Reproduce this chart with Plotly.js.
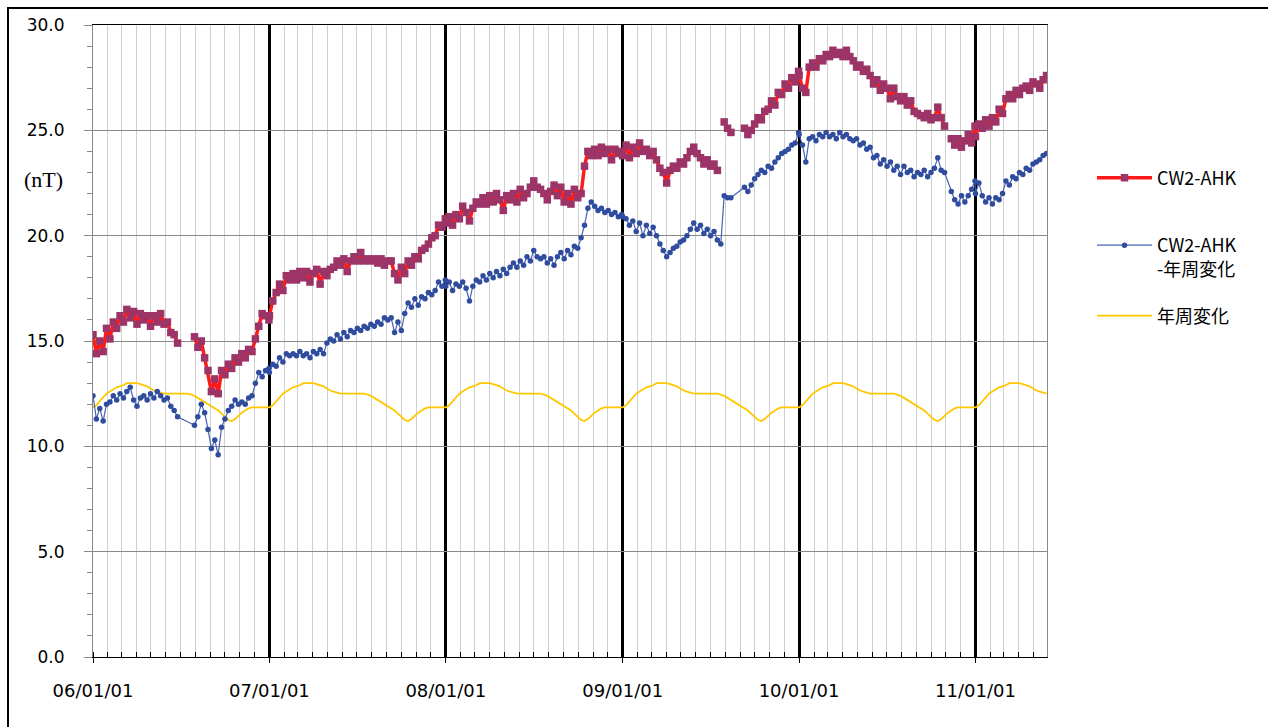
<!DOCTYPE html>
<html>
<head>
<meta charset="utf-8">
<script src="https://cdn.plot.ly/plotly-3.0.1.min.js"></script>
<style>
  html, body { margin:0; padding:0; background:#fff; overflow:hidden; }
  #wrap { position:relative; width:1268px; height:727px; }
  #chart { position:absolute; left:0; top:0; width:1268px; height:727px; }
  #frame { position:absolute; left:7px; top:7px; width:1275px; height:735px; border:2px solid #000; pointer-events:none; box-sizing:border-box; }
</style>
</head>
<body>
<div id="wrap"><div id="chart"></div><div id="frame"></div></div>
<script>
// ---- weekly samples per calendar year (first sample on Jan 1) ----
const years = [2006, 2007, 2008, 2009, 2010, 2011];

// CW2-AHK (nT)
const cw2_2006 = [15.3, 14.4, 15.0, 14.5, 15.6, 15.1, 15.9, 15.6, 16.2, 15.9, 16.5, 16.1, 16.4, 15.8, 16.3, 16.0, 16.2, 15.7, 16.2, 15.9, 16.3, 15.8, 15.9, 15.4, 15.3, 14.9, null, null, null, null, 15.2, 14.7, 15.0, 14.2, 13.6, 12.6, 13.2, 12.5, 13.6, 13.4, 13.9, 13.7, 14.2, 14.0, 14.4, 14.2, 14.6, 14.5, 15.1, 15.7, 16.3, 16.2, 16.0];
const cw2_2007 = [16.2, 16.9, 17.3, 17.7, 17.4, 18.1, 17.9, 18.2, 17.9, 18.3, 18.0, 18.3, 17.8, 18.2, 18.4, 17.7, 18.3, 18.1, 18.4, 18.5, 18.8, 18.6, 18.9, 18.3, 18.8, 19.0, 18.8, 19.2, 18.8, 18.9, 18.8, 18.9, 18.7, 18.9, 18.6, 18.8, 18.8, 18.2, 17.9, 18.5, 18.2, 18.8, 18.6, 19.0, 18.9, 19.3, 19.4, 19.6, 19.9, 20.0, 20.5, 20.4, 20.8];
const cw2_2008 = [20.6, 20.9, 20.5, 21.0, 20.8, 21.4, 21.1, 20.7, 21.3, 21.6, 21.5, 21.8, 21.5, 21.9, 21.6, 22.0, 21.7, 21.2, 21.9, 21.7, 22.0, 21.6, 22.2, 21.8, 22.0, 22.3, 22.6, 22.3, 22.2, 22.0, 21.7, 22.1, 22.4, 21.9, 22.3, 21.6, 22.0, 21.5, 22.2, 21.8, 22.0, 23.3, 24.0, 23.8, 24.1, 23.8, 24.2, 23.9, 24.1, 23.6, 24.1, 23.9, 24.0];
const cw2_2009 = [23.8, 24.3, 23.7, 24.2, 23.9, 24.4, 24.0, 24.1, 23.8, 24.0, 23.6, 23.2, 23.0, 22.5, 23.1, 23.3, 23.2, 23.5, 23.4, 23.7, 24.0, 24.2, 23.9, 23.7, 23.4, 23.6, 23.3, 23.4, 23.1, null, 25.4, 25.1, 24.9, null, null, null, 25.1, 24.8, 25.0, 25.3, 25.6, 25.5, 25.9, 26.0, 26.4, 26.2, 26.8, 26.7, 27.2, 27.0, 27.5, 27.3, 27.8];
const cw2_2010 = [27.6, 27.0, 26.8, 28.0, 28.2, 28.0, 28.4, 28.3, 28.6, 28.5, 28.8, 28.6, 28.7, 28.5, 28.8, 28.5, 28.3, 28.0, 28.1, 27.8, 27.9, 27.6, 27.2, 27.4, 26.9, 27.2, 27.0, 26.5, 27.0, 26.6, 26.4, 26.6, 26.2, 26.4, 25.9, 25.8, 25.7, 25.6, 25.8, 25.5, 25.6, 26.1, 25.6, 25.2, null, 24.6, 24.3, 24.6, 24.2, 24.5, 24.8, 24.4, 25.2];
const cw2_2011 = [24.7, 25.3, 25.1, 25.5, 25.2, 25.6, 25.4, 26.0, 25.8, 26.5, 26.7, 26.5, 26.9, 26.7, 27.0, 27.1, 26.9, 27.3, 27.2, 27.0, 27.4, 27.6];

// CW2-AHK minus annual variation (nT)
const diff_2006 = [12.4, 11.3, 11.8, 11.2, 12.0, 12.1, 12.4, 12.2, 12.5, 12.3, 12.6, 12.8, 12.2, 11.9, 12.3, 12.4, 12.2, 12.5, 12.3, 12.6, 12.4, 12.2, 12.3, 11.9, 11.7, 11.4, null, null, null, null, 11.0, 11.4, 12.0, 11.6, 10.8, 9.9, 10.3, 9.6, 10.9, 11.3, 11.7, 11.9, 12.2, 12.0, 12.1, 12.0, 12.3, 12.4, 13.0, 13.5, 13.3, 13.6, 13.7];
const diff_2007 = [13.5, 13.9, 13.8, 14.2, 14.0, 14.4, 14.3, 14.4, 14.3, 14.5, 14.3, 14.4, 14.2, 14.5, 14.4, 14.6, 14.4, 14.9, 15.1, 15.0, 15.3, 15.1, 15.4, 15.2, 15.5, 15.4, 15.6, 15.5, 15.7, 15.6, 15.8, 15.7, 15.9, 15.8, 16.1, 16.0, 16.1, 15.4, 15.9, 15.5, 16.3, 16.8, 16.6, 17.0, 16.7, 17.1, 17.0, 17.3, 17.2, 17.4, 17.8, 17.6, 17.9];
const diff_2008 = [17.6, 17.8, 17.4, 17.7, 17.6, 17.8, 17.5, 16.9, 17.6, 17.9, 17.8, 18.1, 17.9, 18.2, 18.0, 18.3, 18.1, 18.4, 18.2, 18.5, 18.7, 18.5, 18.8, 18.6, 19.0, 18.8, 19.3, 19.0, 18.9, 19.0, 18.7, 18.9, 18.6, 19.0, 19.2, 18.9, 19.3, 19.1, 19.5, 19.4, 19.9, 20.5, 21.3, 21.6, 21.4, 21.2, 21.3, 21.1, 21.2, 21.0, 21.1, 20.9, 21.0];
const diff_2009 = [20.9, 20.8, 20.5, 20.7, 20.2, 20.6, 20.0, 20.5, 20.1, 20.4, 20.0, 19.6, 19.3, 19.0, 19.2, 19.4, 19.5, 19.7, 19.8, 20.0, 20.3, 20.6, 20.3, 20.5, 20.1, 20.3, 20.0, 20.2, 19.8, 19.6, 21.9, 21.8, 21.8, null, null, null, 22.3, 22.1, 22.4, 22.7, 22.9, 23.1, 23.0, 23.3, 23.2, 23.5, 23.7, 23.9, 24.0, 24.1, 24.3, 24.4, 24.9];
const diff_2010 = [24.8, 24.3, 23.5, 24.6, 24.7, 24.5, 24.8, 24.7, 24.9, 24.7, 24.8, 24.6, 24.9, 24.7, 24.8, 24.6, 24.5, 24.6, 24.3, 24.4, 24.1, 24.2, 23.7, 23.8, 23.4, 23.6, 23.3, 23.5, 23.1, 23.3, 22.9, 23.3, 23.0, 23.1, 22.8, 23.0, 22.9, 23.1, 22.8, 23.0, 23.2, 23.7, 23.1, 23.0, null, 22.1, 21.7, 21.5, 21.9, 21.6, 21.9, 22.2, 22.6];
const diff_2011 = [22.0, 22.5, 21.9, 21.6, 21.8, 21.5, 21.8, 21.7, 22.0, 22.6, 22.4, 22.8, 22.7, 23.0, 22.9, 23.2, 23.1, 23.4, 23.5, 23.6, 23.8, 23.9];

// annual variation (nT)
const ann_2006 = [11.85, 11.95, 12.15, 12.35, 12.5, 12.6, 12.7, 12.8, 12.85, 12.9, 13.0, 13.0, 13.0, 13.0, 12.95, 12.9, 12.85, 12.75, 12.65, 12.6, 12.55, 12.5, 12.5, 12.5, 12.5, 12.5, 12.5, 12.5, 12.5, 12.45, 12.4, 12.3, 12.2, 12.1, 12.0, 11.9, 11.8, 11.7, 11.55, 11.4, 11.25, 11.2, 11.3, 11.45, 11.6, 11.7, 11.8, 11.85, 11.85, 11.85, 11.85, 11.85, 11.85];
const ann_2007 = [11.85, 11.95, 12.15, 12.35, 12.5, 12.6, 12.7, 12.8, 12.85, 12.9, 13.0, 13.0, 13.0, 13.0, 12.95, 12.9, 12.85, 12.75, 12.65, 12.6, 12.55, 12.5, 12.5, 12.5, 12.5, 12.5, 12.5, 12.5, 12.5, 12.45, 12.4, 12.3, 12.2, 12.1, 12.0, 11.9, 11.8, 11.7, 11.55, 11.4, 11.25, 11.2, 11.3, 11.45, 11.6, 11.7, 11.8, 11.85, 11.85, 11.85, 11.85, 11.85, 11.85];
const ann_2008 = [11.85, 11.95, 12.15, 12.35, 12.5, 12.6, 12.7, 12.8, 12.85, 12.9, 13.0, 13.0, 13.0, 13.0, 12.95, 12.9, 12.85, 12.75, 12.65, 12.6, 12.55, 12.5, 12.5, 12.5, 12.5, 12.5, 12.5, 12.5, 12.5, 12.45, 12.4, 12.3, 12.2, 12.1, 12.0, 11.9, 11.8, 11.7, 11.55, 11.4, 11.25, 11.2, 11.3, 11.45, 11.6, 11.7, 11.8, 11.85, 11.85, 11.85, 11.85, 11.85, 11.85];
const ann_2009 = [11.85, 11.95, 12.15, 12.35, 12.5, 12.6, 12.7, 12.8, 12.85, 12.9, 13.0, 13.0, 13.0, 13.0, 12.95, 12.9, 12.85, 12.75, 12.65, 12.6, 12.55, 12.5, 12.5, 12.5, 12.5, 12.5, 12.5, 12.5, 12.5, 12.45, 12.4, 12.3, 12.2, 12.1, 12.0, 11.9, 11.8, 11.7, 11.55, 11.4, 11.25, 11.2, 11.3, 11.45, 11.6, 11.7, 11.8, 11.85, 11.85, 11.85, 11.85, 11.85, 11.85];
const ann_2010 = [11.85, 11.95, 12.15, 12.35, 12.5, 12.6, 12.7, 12.8, 12.85, 12.9, 13.0, 13.0, 13.0, 13.0, 12.95, 12.9, 12.85, 12.75, 12.65, 12.6, 12.55, 12.5, 12.5, 12.5, 12.5, 12.5, 12.5, 12.5, 12.5, 12.45, 12.4, 12.3, 12.2, 12.1, 12.0, 11.9, 11.8, 11.7, 11.55, 11.4, 11.25, 11.2, 11.3, 11.45, 11.6, 11.7, 11.8, 11.85, 11.85, 11.85, 11.85, 11.85, 11.85];
const ann_2011 = [11.85, 11.95, 12.15, 12.35, 12.5, 12.6, 12.7, 12.8, 12.85, 12.9, 13.0, 13.0, 13.0, 13.0, 12.95, 12.9, 12.85, 12.75, 12.65, 12.6, 12.55, 12.5];

const seriesNames = ['CW2-AHK', 'CW2-AHK<br>-年周変化', '年周変化'];
const xRange = ['2006-01-01', '2011-05-29'];

// ---- build ----
function weeklyDates(year, n) {
  const out = [];
  for (let i = 0; i < n; i++) {
    const d = new Date(Date.UTC(year, 0, 1 + 7 * i));
    out.push(d.toISOString().slice(0, 10));
  }
  return out;
}
const cw2 = [cw2_2006, cw2_2007, cw2_2008, cw2_2009, cw2_2010, cw2_2011];
const diff = [diff_2006, diff_2007, diff_2008, diff_2009, diff_2010, diff_2011];
const ann = [ann_2006, ann_2007, ann_2008, ann_2009, ann_2010, ann_2011];
let X = [];
years.forEach((y, k) => { X = X.concat(weeklyDates(y, cw2[k].length)); });
const Ycw2 = [].concat(...cw2);
const Ydiff = [].concat(...diff);
const Yann = [].concat(...ann);

const legendFont = {family: '"Noto Sans CJK JP", sans-serif', size: 18, color: '#000'};
const traces = [
  {x: X, y: Yann, name: seriesNames[2], type: 'scatter', mode: 'lines',
   line: {color: '#ffc800', width: 1.8}, legend: 'legend3'},
  {x: X, y: Ydiff, name: seriesNames[1], type: 'scatter', mode: 'lines+markers', connectgaps: true,
   line: {color: '#4763b5', width: 1.2}, marker: {color: '#2f4c9e', size: 5.5, symbol: 'circle'}, legend: 'legend2'},
  {x: X, y: Ycw2, name: seriesNames[0], type: 'scatter', mode: 'lines+markers', connectgaps: false,
   line: {color: '#ff1a1a', width: 3.5}, marker: {color: '#9c3468', size: 7.5, symbol: 'square'}, legend: 'legend'}
];

const L = 93, R = 1047, T = 25, B = 657;
const px = v => (v - L) / (R - L);
const py = v => (B - v) / (B - T);

const layout = {
  width: 1268, height: 727,
  margin: {l: L, r: 1268 - R, t: T, b: 727 - B},
  paper_bgcolor: '#fff', plot_bgcolor: '#fff',
  font: {family: '"DejaVu Sans", sans-serif', size: 17, color: '#000'},
  showlegend: true,
  xaxis: {
    type: 'date', range: xRange, tick0: '2006-01-01', dtick: 'M12', tickformat: '%y/%m/%d',
    showgrid: true, gridcolor: '#000', gridwidth: 3,
    ticks: 'outside', ticklen: 5, tickcolor: '#000', ticklabelstandoff: 12,
    showline: true, linecolor: '#000', linewidth: 1, mirror: true, zeroline: false,
    minor: {dtick: 'M1', showgrid: true, gridcolor: '#d0d0d0', gridwidth: 1, ticks: 'inside', ticklen: 5, tickcolor: '#000'},
    tickfont: {size: 18}
  },
  yaxis: {
    range: [0, 30], dtick: 5, tickformat: '.1f',
    showgrid: true, gridcolor: '#888', gridwidth: 1,
    ticks: 'outside', ticklen: 8, tickcolor: '#888', ticklabelstandoff: 16,
    showline: true, linecolor: '#888', linewidth: 1, mirror: true, zeroline: false,
    minor: {dtick: 1, ticks: 'outside', ticklen: 5, tickcolor: '#888', showgrid: false},
    tickfont: {size: 17}
  },
  legend: {x: px(1092), y: py(178), xanchor: 'left', yanchor: 'middle', font: legendFont, itemwidth: 55, bgcolor: 'rgba(0,0,0,0)'},
  legend2: {x: px(1092), y: py(257), xanchor: 'left', yanchor: 'middle', font: legendFont, itemwidth: 55, valign: 'top', bgcolor: 'rgba(0,0,0,0)'},
  legend3: {x: px(1092), y: py(316), xanchor: 'left', yanchor: 'middle', font: legendFont, itemwidth: 55, bgcolor: 'rgba(0,0,0,0)'},
  annotations: [
    {text: '(nT)', xref: 'paper', yref: 'paper', x: px(43), y: py(180), xanchor: 'center', yanchor: 'middle',
     showarrow: false, font: {family: '"Liberation Serif", serif', size: 22, color: '#000'}}
  ]
};

Plotly.newPlot('chart', traces, layout, {displayModeBar: false, staticPlot: true});
</script>
</body>
</html>
